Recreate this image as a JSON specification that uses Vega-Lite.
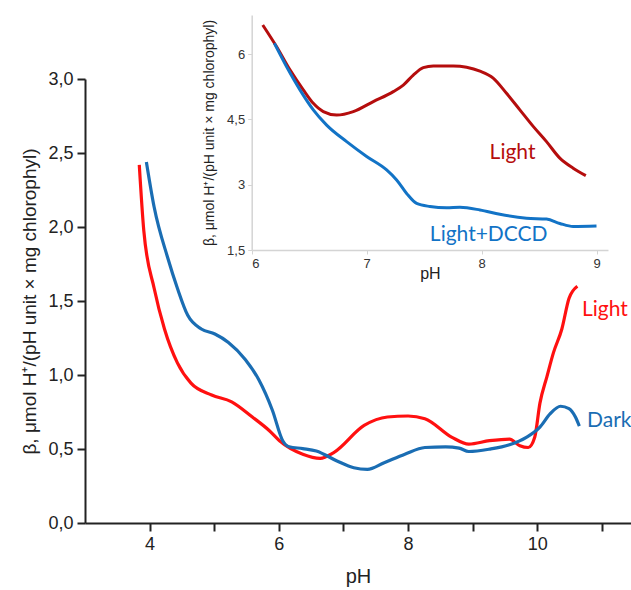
{
  "$schema": "https://vega.github.io/schema/vega-lite/v6.json",
  "width": 546,
  "height": 444,
  "autosize": {"type": "none"},
  "padding": {"left": 85, "top": 79, "right": 0, "bottom": 67},
  "background": "white",
  "config": {
    "view": {"stroke": null},
    "font": "Liberation Sans",
    "axis": {"grid": false, "labelFont": "Liberation Sans", "titleFont": "Liberation Sans", "titleFontWeight": "normal"}
  },
  "datasets": {
    "main": [
      {"s": "Light", "pH": 3.84, "v": 2.42},
      {"s": "Light", "pH": 3.91, "v": 1.975},
      {"s": "Light", "pH": 4.07, "v": 1.586},
      {"s": "Light", "pH": 4.23, "v": 1.311},
      {"s": "Light", "pH": 4.43, "v": 1.082},
      {"s": "Light", "pH": 4.64, "v": 0.945},
      {"s": "Light", "pH": 4.96, "v": 0.865},
      {"s": "Light", "pH": 5.27, "v": 0.819},
      {"s": "Light", "pH": 5.59, "v": 0.716},
      {"s": "Light", "pH": 5.85, "v": 0.625},
      {"s": "Light", "pH": 6.01, "v": 0.556},
      {"s": "Light", "pH": 6.37, "v": 0.465},
      {"s": "Light", "pH": 6.64, "v": 0.437},
      {"s": "Light", "pH": 6.85, "v": 0.476},
      {"s": "Light", "pH": 7.32, "v": 0.659},
      {"s": "Light", "pH": 7.68, "v": 0.716},
      {"s": "Light", "pH": 8.0, "v": 0.723},
      {"s": "Light", "pH": 8.26, "v": 0.705},
      {"s": "Light", "pH": 8.68, "v": 0.579},
      {"s": "Light", "pH": 8.94, "v": 0.533},
      {"s": "Light", "pH": 9.26, "v": 0.556},
      {"s": "Light", "pH": 9.57, "v": 0.567},
      {"s": "Light", "pH": 9.73, "v": 0.522},
      {"s": "Light", "pH": 9.86, "v": 0.51},
      {"s": "Light", "pH": 9.96, "v": 0.579},
      {"s": "Light", "pH": 10.04, "v": 0.808},
      {"s": "Light", "pH": 10.15, "v": 0.991},
      {"s": "Light", "pH": 10.25, "v": 1.151},
      {"s": "Light", "pH": 10.38, "v": 1.311},
      {"s": "Light", "pH": 10.49, "v": 1.517},
      {"s": "Light", "pH": 10.62, "v": 1.6},
      {"s": "Dark", "pH": 3.95, "v": 2.44},
      {"s": "Dark", "pH": 4.07, "v": 2.135},
      {"s": "Dark", "pH": 4.28, "v": 1.792},
      {"s": "Dark", "pH": 4.43, "v": 1.586},
      {"s": "Dark", "pH": 4.59, "v": 1.403},
      {"s": "Dark", "pH": 4.8, "v": 1.311},
      {"s": "Dark", "pH": 5.01, "v": 1.277},
      {"s": "Dark", "pH": 5.22, "v": 1.22},
      {"s": "Dark", "pH": 5.48, "v": 1.105},
      {"s": "Dark", "pH": 5.69, "v": 0.968},
      {"s": "Dark", "pH": 5.9, "v": 0.762},
      {"s": "Dark", "pH": 6.06, "v": 0.556},
      {"s": "Dark", "pH": 6.16, "v": 0.515},
      {"s": "Dark", "pH": 6.37, "v": 0.503},
      {"s": "Dark", "pH": 6.58, "v": 0.487},
      {"s": "Dark", "pH": 6.9, "v": 0.419},
      {"s": "Dark", "pH": 7.16, "v": 0.373},
      {"s": "Dark", "pH": 7.37, "v": 0.362},
      {"s": "Dark", "pH": 7.63, "v": 0.407},
      {"s": "Dark", "pH": 7.95, "v": 0.465},
      {"s": "Dark", "pH": 8.26, "v": 0.51},
      {"s": "Dark", "pH": 8.58, "v": 0.515},
      {"s": "Dark", "pH": 8.79, "v": 0.506},
      {"s": "Dark", "pH": 8.94, "v": 0.483},
      {"s": "Dark", "pH": 9.26, "v": 0.499},
      {"s": "Dark", "pH": 9.57, "v": 0.529},
      {"s": "Dark", "pH": 9.83, "v": 0.579},
      {"s": "Dark", "pH": 10.04, "v": 0.648},
      {"s": "Dark", "pH": 10.2, "v": 0.739},
      {"s": "Dark", "pH": 10.36, "v": 0.789},
      {"s": "Dark", "pH": 10.49, "v": 0.773},
      {"s": "Dark", "pH": 10.59, "v": 0.716},
      {"s": "Dark", "pH": 10.65, "v": 0.655}
    ],
    "inset": [
      {"s": "Light", "pH": 6.096, "v": 6.67},
      {"s": "Light", "pH": 6.217, "v": 6.17},
      {"s": "Light", "pH": 6.333, "v": 5.64},
      {"s": "Light", "pH": 6.449, "v": 5.18},
      {"s": "Light", "pH": 6.536, "v": 4.87},
      {"s": "Light", "pH": 6.623, "v": 4.68},
      {"s": "Light", "pH": 6.739, "v": 4.6},
      {"s": "Light", "pH": 6.884, "v": 4.68},
      {"s": "Light", "pH": 7.058, "v": 4.91},
      {"s": "Light", "pH": 7.232, "v": 5.14},
      {"s": "Light", "pH": 7.319, "v": 5.29},
      {"s": "Light", "pH": 7.406, "v": 5.52},
      {"s": "Light", "pH": 7.493, "v": 5.69},
      {"s": "Light", "pH": 7.58, "v": 5.73},
      {"s": "Light", "pH": 7.754, "v": 5.73},
      {"s": "Light", "pH": 7.87, "v": 5.7},
      {"s": "Light", "pH": 7.986, "v": 5.61},
      {"s": "Light", "pH": 8.101, "v": 5.45},
      {"s": "Light", "pH": 8.217, "v": 5.1},
      {"s": "Light", "pH": 8.333, "v": 4.72},
      {"s": "Light", "pH": 8.449, "v": 4.34},
      {"s": "Light", "pH": 8.565, "v": 3.99},
      {"s": "Light", "pH": 8.681, "v": 3.61},
      {"s": "Light", "pH": 8.797, "v": 3.38},
      {"s": "Light", "pH": 8.907, "v": 3.21},
      {"s": "DCCD", "pH": 6.197, "v": 6.25},
      {"s": "DCCD", "pH": 6.304, "v": 5.71},
      {"s": "DCCD", "pH": 6.42, "v": 5.18},
      {"s": "DCCD", "pH": 6.536, "v": 4.72},
      {"s": "DCCD", "pH": 6.652, "v": 4.37},
      {"s": "DCCD", "pH": 6.826, "v": 3.99},
      {"s": "DCCD", "pH": 7.0, "v": 3.65},
      {"s": "DCCD", "pH": 7.174, "v": 3.34},
      {"s": "DCCD", "pH": 7.261, "v": 3.11},
      {"s": "DCCD", "pH": 7.348, "v": 2.8},
      {"s": "DCCD", "pH": 7.435, "v": 2.57},
      {"s": "DCCD", "pH": 7.551, "v": 2.5},
      {"s": "DCCD", "pH": 7.696, "v": 2.47},
      {"s": "DCCD", "pH": 7.812, "v": 2.48},
      {"s": "DCCD", "pH": 7.986, "v": 2.42},
      {"s": "DCCD", "pH": 8.159, "v": 2.32},
      {"s": "DCCD", "pH": 8.391, "v": 2.23},
      {"s": "DCCD", "pH": 8.565, "v": 2.21},
      {"s": "DCCD", "pH": 8.681, "v": 2.11},
      {"s": "DCCD", "pH": 8.797, "v": 2.04},
      {"s": "DCCD", "pH": 9.0, "v": 2.05}
    ]
  },
  "layer": [
    {
      "layer": [
        {
          "data": {"name": "main"},
          "mark": {"type": "line", "interpolate": "monotone", "strokeWidth": 3.2, "clip": false},
          "encoding": {
            "x": {
              "field": "pH", "type": "quantitative",
              "scale": {"domain": [3, 11.45], "nice": false, "zero": false},
              "axis": {
                "orient": "bottom", "title": "pH", "values": [4, 5, 6, 7, 8, 9, 10, 11], "format": "d",
                "labelExpr": "datum.value % 2 == 0 ? datum.label : ''",
                "domainColor": "#222222", "domainWidth": 2, "tickColor": "#222222", "tickWidth": 2, "tickSize": 8,
                "labelFontSize": 18, "labelColor": "#222222", "labelPadding": 4,
                "titleFontSize": 20, "titleColor": "#222222", "titlePadding": 13
              }
            },
            "y": {
              "field": "v", "type": "quantitative",
              "scale": {"domain": [0, 3], "nice": false},
              "axis": {
                "orient": "left", "title": "β, μmol H⁺/(pH unit × mg chlorophyl)",
                "values": [0, 0.5, 1, 1.5, 2, 2.5, 3], "format": ".1f",
                "labelExpr": "replace(datum.label, '.', ',')",
                "domainColor": "#222222", "domainWidth": 2, "tickColor": "#222222", "tickWidth": 2, "tickSize": 8,
                "labelFontSize": 18, "labelColor": "#222222", "labelPadding": 4,
                "titleFontSize": 19, "titleColor": "#222222", "titlePadding": 8
              }
            },
            "color": {
              "field": "s", "type": "nominal", "legend": null,
              "scale": {"domain": ["Light", "Dark"], "range": ["#ff1010", "#1a6db3"]}
            },
            "detail": {"field": "s"}
          }
        },
        {
          "data": {"values": [{"t": "Light", "pH": 10.69, "v": 1.44}]},
          "mark": {"type": "text", "color": "#ff1010", "font": "Lato", "fontSize": 21, "align": "left", "baseline": "middle"},
          "encoding": {"x": {"field": "pH", "type": "quantitative"}, "y": {"field": "v", "type": "quantitative"}, "text": {"field": "t"}}
        },
        {
          "data": {"values": [{"t": "Dark", "pH": 10.77, "v": 0.69}]},
          "mark": {"type": "text", "color": "#1a6db3", "font": "Lato", "fontSize": 21, "align": "left", "baseline": "middle"},
          "encoding": {"x": {"field": "pH", "type": "quantitative"}, "y": {"field": "v", "type": "quantitative"}, "text": {"field": "t"}}
        }
      ]
    },
    {
      "layer": [
        {
          "data": {"name": "inset"},
          "mark": {"type": "line", "interpolate": "monotone", "strokeWidth": 3, "clip": false},
          "encoding": {
            "x": {
              "field": "pH", "type": "quantitative",
              "scale": {"domain": [6, 9.1], "nice": false, "zero": false, "range": [166.7, 523]},
              "axis": {
                "orient": "bottom", "offset": -273, "title": "pH", "values": [6, 7, 8, 9], "format": "d",
                "domainColor": "#d4d4d4", "domainWidth": 1.5, "tickColor": "#d4d4d4", "tickSize": 4,
                "labelFontSize": 13, "labelColor": "#333333", "labelPadding": 3,
                "titleFontSize": 16, "titleColor": "#222222", "titlePadding": -5
              }
            },
            "y": {
              "field": "v", "type": "quantitative",
              "scale": {"domain": [1.5, 6.9], "nice": false, "zero": false, "range": [171, -64]},
              "axis": {
                "orient": "left", "offset": -166.7, "title": "β, μmol H⁺/(pH unit × mg chlorophyl)",
                "values": [1.5, 3, 4.5, 6], "format": "~g",
                "labelExpr": "replace(datum.label, '.', ',')",
                "domainColor": "#d4d4d4", "domainWidth": 1.5, "tickColor": "#d4d4d4", "tickSize": 4,
                "labelFontSize": 13, "labelColor": "#333333", "labelPadding": 3,
                "titleFontSize": 14, "titleColor": "#222222", "titlePadding": 10
              }
            },
            "color": {
              "field": "s", "type": "nominal", "legend": null,
              "scale": {"domain": ["Light", "DCCD"], "range": ["#b50d0d", "#1273c6"]}
            },
            "detail": {"field": "s"}
          }
        },
        {
          "data": {"values": [{"t": "Light", "pH": 8.07, "v": 3.73}]},
          "mark": {"type": "text", "color": "#b50d0d", "font": "Lato", "fontSize": 21, "align": "left", "baseline": "middle"},
          "encoding": {"x": {"field": "pH", "type": "quantitative"}, "y": {"field": "v", "type": "quantitative"}, "text": {"field": "t"}}
        },
        {
          "data": {"values": [{"t": "Light+DCCD", "pH": 7.55, "v": 1.84}]},
          "mark": {"type": "text", "color": "#1273c6", "font": "Lato", "fontSize": 21, "align": "left", "baseline": "middle"},
          "encoding": {"x": {"field": "pH", "type": "quantitative"}, "y": {"field": "v", "type": "quantitative"}, "text": {"field": "t"}}
        }
      ]
    }
  ],
  "resolve": {"scale": {"x": "independent", "y": "independent", "color": "independent"}, "axis": {"x": "independent", "y": "independent"}}
}
